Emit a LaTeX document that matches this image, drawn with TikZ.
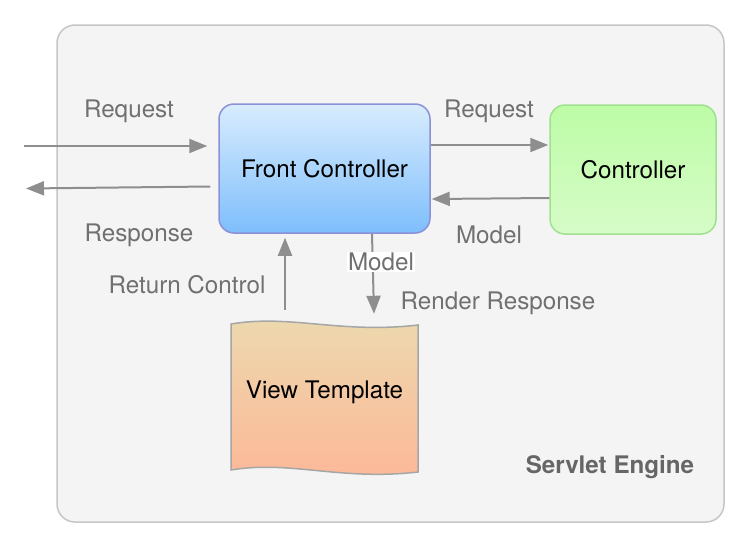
\documentclass[tikz,border=0pt]{standalone}
\usepackage{fontspec}
\setmainfont{TeX Gyre Heros}
\usetikzlibrary{arrows.meta}

\definecolor{fundo}{HTML}{F4F4F4}
\definecolor{bordafundo}{HTML}{C6C6C6}
\definecolor{azulcima}{HTML}{D8ECFD}
\definecolor{azulbaixo}{HTML}{7EBEFC}
\definecolor{bordaazul}{HTML}{8C90D6}
\definecolor{verdecima}{HTML}{BDFCA6}
\definecolor{verdebaixo}{HTML}{D6FCC8}
\definecolor{bordaverde}{HTML}{A0E08E}
\definecolor{laranjacima}{HTML}{ECD9AE}
\definecolor{laranjabaixo}{HTML}{FDB898}
\definecolor{bordadoc}{HTML}{A6A6A6}
\definecolor{cinzaseta}{HTML}{8E8E8E}
\definecolor{cinzatexto}{HTML}{707070}
\definecolor{cinzamotor}{HTML}{666666}

\begin{document}
\begin{tikzpicture}[x=1pt, y=-1pt,
	caixa/.style={rounded corners=15, line width=1.5, minimum height=129, text=black, font=\fontsize{24.2}{28}\selectfont},
	rotulo/.style={text=cinzatexto, inner sep=1, font=\fontsize{24.2}{28}\selectfont},
	seta/.style={draw=cinzaseta, line width=2, -{Triangle[length=18, width=14]}}]
	\useasboundingbox (0, 0) rectangle (746, 544);

	%motor de servlet
	\draw[rounded corners=18, fill=fundo, draw=bordafundo, line width=1.5] (57, 25) rectangle (724, 522);
	\node[text=cinzamotor, font=\bfseries\fontsize{24.2}{28}\selectfont] (motor) at (610, 467) {Servlet Engine};

	%caixas
	\node[caixa, draw=bordaazul, top color=azulcima, bottom color=azulbaixo, minimum width=211] (fc) at (324.5, 168.5) {Front Controller};
	\node[caixa, draw=bordaverde, top color=verdecima, bottom color=verdebaixo, minimum width=166] (ctrl) at (633, 169.5) {Controller};

	%template
	\draw[draw=bordadoc, line width=1.5, top color=laranjacima, bottom color=laranjabaixo]
		(231, 324) .. controls (290, 314) and (340, 334) .. (418, 325)
		-- (418, 472) .. controls (340, 481) and (290, 460) .. (231, 470) -- cycle;
	\node[text=black, font=\fontsize{24.2}{28}\selectfont, minimum width=187, minimum height=144] (vt) at (324.5, 392) {View Template};

	%entrada e saida
	\coordinate (ent) at (24, 146);
	\coordinate (sai) at (26, 188.5);
	\draw[seta] (ent) -- ([xshift=-11, yshift=22.5]fc.west);
	\node[rotulo] (req1) at (129, 111.5) {Request};
	\draw[seta] ([xshift=-8, yshift=-18]fc.west) -- (sai);
	\node[rotulo] (resp) at (139, 235.5) {Response};

	%controller
	\draw[seta] ([yshift=23.5]fc.east) -- ([xshift=-1, yshift=24.5]ctrl.west);
	\node[rotulo] (req2) at (489, 111.5) {Request};
	\draw[seta] ([yshift=-28.5]ctrl.west) -- ([xshift=1, yshift=-30.5]fc.east);
	\node[rotulo] (mod1) at (489, 235) {Model};

	%template
	\draw[seta] ([xshift=-39.5, yshift=10]vt.north) -- ([xshift=-39.5, yshift=-4]fc.south);
	\node[rotulo] (ret) at (187, 285) {Return Control};
	\draw[seta] ([xshift=47.5]fc.south) -- ([xshift=49.5, yshift=6]vt.north);
	\node[rotulo, fill=white] (mod2) at (381, 261.5) {Model};
	\node[rotulo] (rend) at (498, 303.5) {Render Response};
\end{tikzpicture}
\end{document}
